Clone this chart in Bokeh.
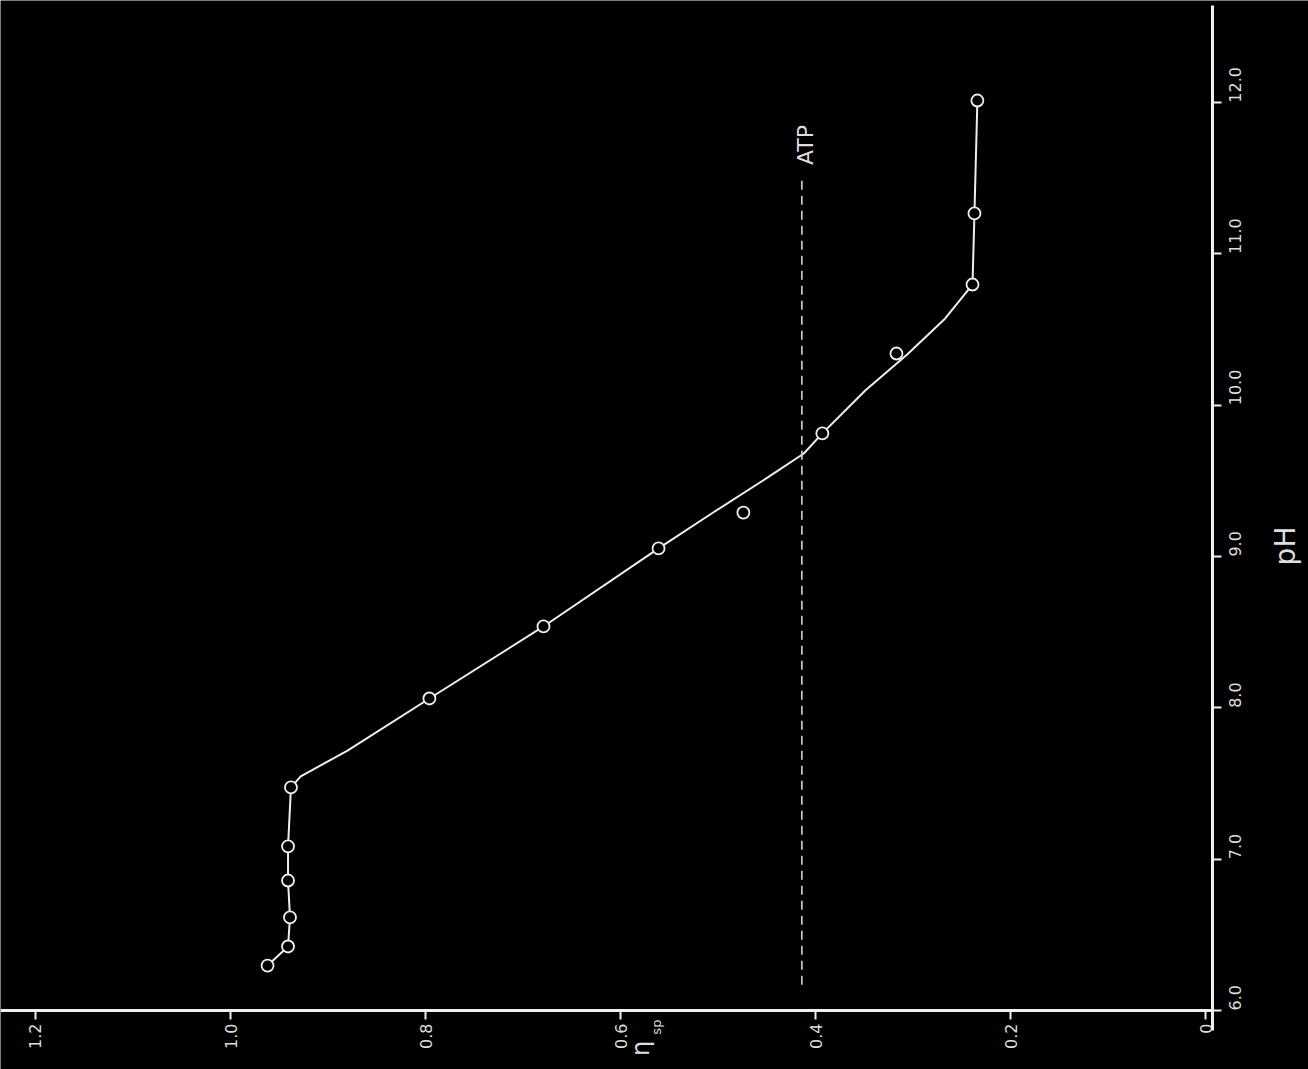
import math
from bokeh.plotting import figure
from bokeh.models import Range1d, LinearAxis, FixedTicker, Label
from bokeh.embed import file_html
from bokeh.resources import INLINE

# Measured points (specific viscosity vs pH)
ph_points = [6.297, 6.423, 6.615, 6.859, 7.084, 7.474, 8.062, 8.538, 9.054,
             9.291, 9.814, 10.342, 10.798, 11.268, 12.014]
eta_points = [0.962, 0.941, 0.939, 0.941, 0.941, 0.938, 0.796, 0.679, 0.561,
              0.474, 0.393, 0.317, 0.239, 0.237, 0.234]

# Hand-drawn smooth curve through the points
curve_ph = [6.297, 6.423, 6.615, 6.859, 7.084, 7.474, 7.547, 7.718, 8.062,
            8.538, 9.054, 9.291, 9.523, 9.681, 9.814, 10.098, 10.336, 10.574,
            10.798, 11.268, 12.014]
curve_eta = [0.962, 0.941, 0.939, 0.941, 0.941, 0.938, 0.928, 0.880, 0.796,
             0.679, 0.561, 0.505, 0.449, 0.412, 0.393, 0.349, 0.306, 0.267,
             0.239, 0.237, 0.234]

# ATP reference level
atp_eta = 0.414
atp_ph_span = [6.17, 11.52]
atp_label = "ATP"

# Axes
ph_ticks = [6.0, 7.0, 8.0, 9.0, 10.0, 11.0, 12.0]
ph_tick_labels = ["6.0", "7.0", "8.0", "9.0", "10.0", "11.0", "12.0"]
eta_ticks = [0.0, 0.2, 0.4, 0.6, 0.8, 1.0, 1.2]
eta_tick_labels = ["0", "0.2", "0.4", "0.6", "0.8", "1.0", "1.2"]
ph_title = "pH"
eta_title_main = "η"
eta_title_sub = "sp"

FG = "#efefef"
LBL = "#dedede"
FONT = "DejaVu Sans"

p = figure(width=1308, height=1069, output_backend="svg", toolbar_location=None,
           x_range=Range1d(1.2359, -0.1056), y_range=Range1d(5.610, 12.675),
           x_axis_type=None, y_axis_type=None,
           min_border_left=0, min_border_top=0, min_border_right=0,
           min_border_bottom=0,
           background_fill_color="black", border_fill_color="black",
           outline_line_color=None)

ax_b = LinearAxis(ticker=FixedTicker(ticks=eta_ticks),
                  major_label_overrides=dict(zip(eta_ticks, eta_tick_labels)),
                  fixed_location=6.0, bounds=(-0.007, 1.2359))
ax_r = LinearAxis(ticker=FixedTicker(ticks=ph_ticks),
                  major_label_overrides=dict(zip(ph_ticks, ph_tick_labels)),
                  fixed_location=-0.007, bounds=(5.87, 12.64))
for ax in (ax_b, ax_r):
    ax.axis_line_color = FG
    ax.axis_line_width = 3
    ax.major_tick_line_color = FG
    ax.major_tick_line_width = 2
    ax.major_tick_out = 9
    ax.major_tick_in = 0
    ax.minor_tick_line_color = None
    ax.major_label_text_color = LBL
    ax.major_label_text_font = FONT
    ax.major_label_text_font_size = "16px"
    ax.major_label_orientation = math.pi / 2
ax_b.major_label_standoff = 4
ax_r.major_label_standoff = 14
p.add_layout(ax_b, "below")
p.add_layout(ax_r, "right")

p.line(curve_eta, curve_ph, line_color=FG, line_width=2)
p.scatter(eta_points, ph_points, marker="circle", size=12, fill_color="black",
          line_color=FG, line_width=1.8)
p.line([atp_eta, atp_eta], atp_ph_span, line_color="#d2d2d2", line_width=1.6,
       line_dash="9 6")

p.add_layout(Label(x=0.41, y=11.72, text=atp_label, angle=math.pi / 2,
                   text_align="center", text_baseline="middle",
                   text_color=LBL, text_font=FONT, text_font_size="22px"))
p.add_layout(Label(x=-0.082, y=9.07, text=ph_title, angle=math.pi / 2,
                   text_align="center", text_baseline="middle",
                   text_color=LBL, text_font=FONT, text_font_size="28px"))
p.add_layout(Label(x=0.579, y=5.75, text=eta_title_main, angle=math.pi / 2,
                   text_align="center", text_baseline="middle",
                   text_color=LBL, text_font=FONT, text_font_size="24px"))
p.add_layout(Label(x=0.563, y=5.89, text=eta_title_sub, angle=math.pi / 2,
                   text_align="center", text_baseline="middle",
                   text_color=LBL, text_font=FONT, text_font_size="13px"))

open("out.html", "w").write(file_html(p, INLINE))
